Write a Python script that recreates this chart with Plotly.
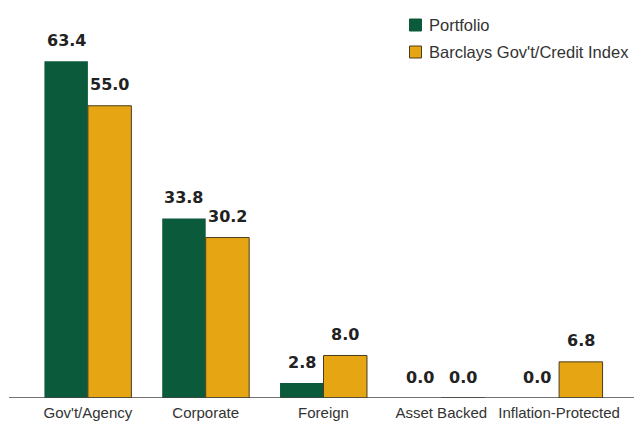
import plotly.graph_objects as go

categories = ["Gov't/Agency", "Corporate", "Foreign", "Asset Backed", "Inflation-Protected"]
portfolio = [63.4, 33.8, 2.8, 0.0, 0.0]
index_vals = [55.0, 30.2, 8.0, 0.0, 6.8]
series_names = ["Portfolio", "Barclays Gov't/Credit Index"]

GREEN = "#0b5a3b"
GOLD = "#e6a614"
GOLD_EDGE = "#4a3c1c"
TEXT = "#222222"

W, H = 634, 423
ML, MR, MT, MB = 29, 16, 25, 25
PW, PH = W - ML - MR, H - MT - MB


def px_x(p):
    return (p - ML) / PW


def px_y(p):
    return (H - MB - p) / PH


bargap = 0.262
half = (1 - bargap) / 4  # offset of each bar centre from category centre

fig = go.Figure()
fig.add_trace(go.Bar(
    x=categories, y=portfolio, name=series_names[0],
    marker=dict(color=GREEN, line=dict(color=GREEN, width=0)),
))
fig.add_trace(go.Bar(
    x=categories, y=index_vals, name=series_names[1],
    marker=dict(color=GOLD, line=dict(color=GOLD_EDGE, width=1)),
))

# value labels above each bar
annotations = []
for i, (p, b) in enumerate(zip(portfolio, index_vals)):
    for xv, v in ((i - half, p), (i + half, b)):
        annotations.append(dict(
            x=xv, y=v, xref="x", yref="y", text=f"{v:.1f}",
            showarrow=False, yanchor="middle", yshift=21,
            font=dict(family="DejaVu Sans", size=16, color=TEXT, weight="bold"),
        ))

# key in the top-right corner
shapes = [dict(
    type="line", xref="paper", yref="y",
    x0=px_x(9), x1=px_x(634), y0=0, y1=0,
    line=dict(color="#444444", width=1.5),
)]
key_rows = [(series_names[0], GREEN, GREEN, 25), (series_names[1], GOLD, GOLD_EDGE, 52)]
for name, fill, edge, cy in key_rows:
    shapes.append(dict(
        type="rect", xref="paper", yref="paper",
        x0=px_x(409.5), x1=px_x(421.5), y0=px_y(cy + 6), y1=px_y(cy - 6),
        fillcolor=fill, line=dict(color=edge, width=1),
    ))
    annotations.append(dict(
        x=px_x(427), y=px_y(cy), xref="paper", yref="paper",
        xanchor="left", yanchor="middle", text=name, showarrow=False,
        font=dict(family="Liberation Sans", size=16.5, color="#333333"),
    ))

fig.update_layout(
    width=W, height=H,
    margin=dict(l=ML, r=MR, t=MT, b=MB),
    paper_bgcolor="white", plot_bgcolor="white",
    barmode="group", bargap=bargap, bargroupgap=0,
    showlegend=False,
    annotations=annotations,
    shapes=shapes,
    xaxis=dict(
        showgrid=False, showline=False, zeroline=False, ticks="",
        tickfont=dict(family="Liberation Sans", size=15, color="#333333"),
        ticklabelstandoff=4, automargin=False,
    ),
    yaxis=dict(
        range=[0, 70.2], visible=False, showgrid=False, zeroline=False,
        automargin=False,
    ),
)

fig.write_html("out.html")
